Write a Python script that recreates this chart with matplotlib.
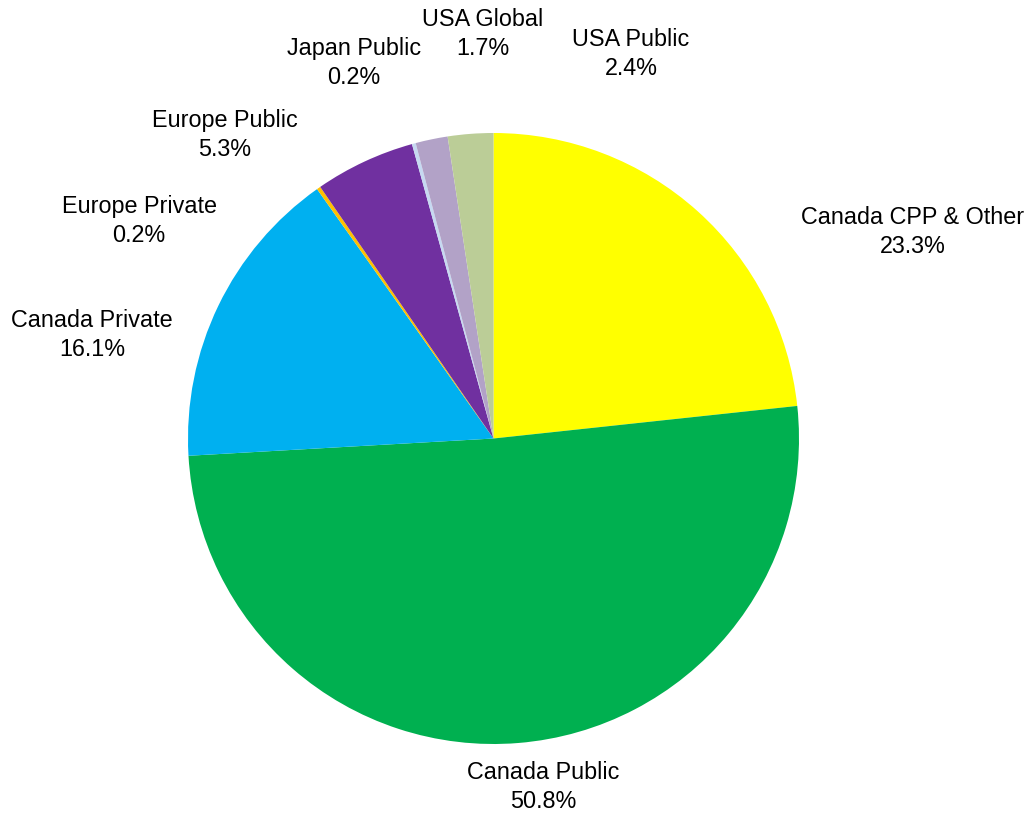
import numpy as np
import matplotlib.pyplot as plt

plt.rcParams['font.family'] = ['Liberation Sans', 'DejaVu Sans']

# Доли портфеля по сегментам, %
labels = ['Canada CPP & Other', 'Canada Public', 'Canada Private', 'Europe Private',
          'Europe Public', 'Japan Public', 'USA Global', 'USA Public']
shares = [23.3, 50.8, 16.1, 0.2, 5.3, 0.2, 1.7, 2.4]
colors = ['#FFFF00', '#00B050', '#00B0F0', '#FFC000',
          '#7030A0', '#C6D9F1', '#B2A2C7', '#BBCD97']

# Центры подписей в радиусах круга
label_xy = [(1.373, 0.676), (0.162, -1.141), (-1.314, 0.339), (-1.160, 0.712),
            (-0.879, 0.993), (-0.457, 1.229), (-0.034, 1.324), (0.450, 1.259)]

W, H, dpi = 1033, 814, 100
cx, cy, R = 493.5, 438.5, 305.5  # центр и радиус круга в пикселях

fig = plt.figure(figsize=(W / dpi, H / dpi), dpi=dpi)
ax = fig.add_axes([0, 0, 1, 1])

wedges, texts = ax.pie(shares, labels=[f'{l}\n{v:.1f}%' for l, v in zip(labels, shares)],
                       colors=colors, startangle=90, counterclock=False,
                       textprops={'fontsize': 16.8, 'color': 'black', 'linespacing': 1.32})

for t, (x, y) in zip(texts, label_xy):
    t.set_position((x, y))
    t.set_ha('center')
    t.set_va('center')
    t.set_multialignment('center')

ax.set_xlim(-cx / R, (W - cx) / R)
ax.set_ylim(-(H - cy) / R, cy / R)
ax.set_aspect('auto')
ax.axis('off')

fig.savefig('out.png', dpi=dpi)
